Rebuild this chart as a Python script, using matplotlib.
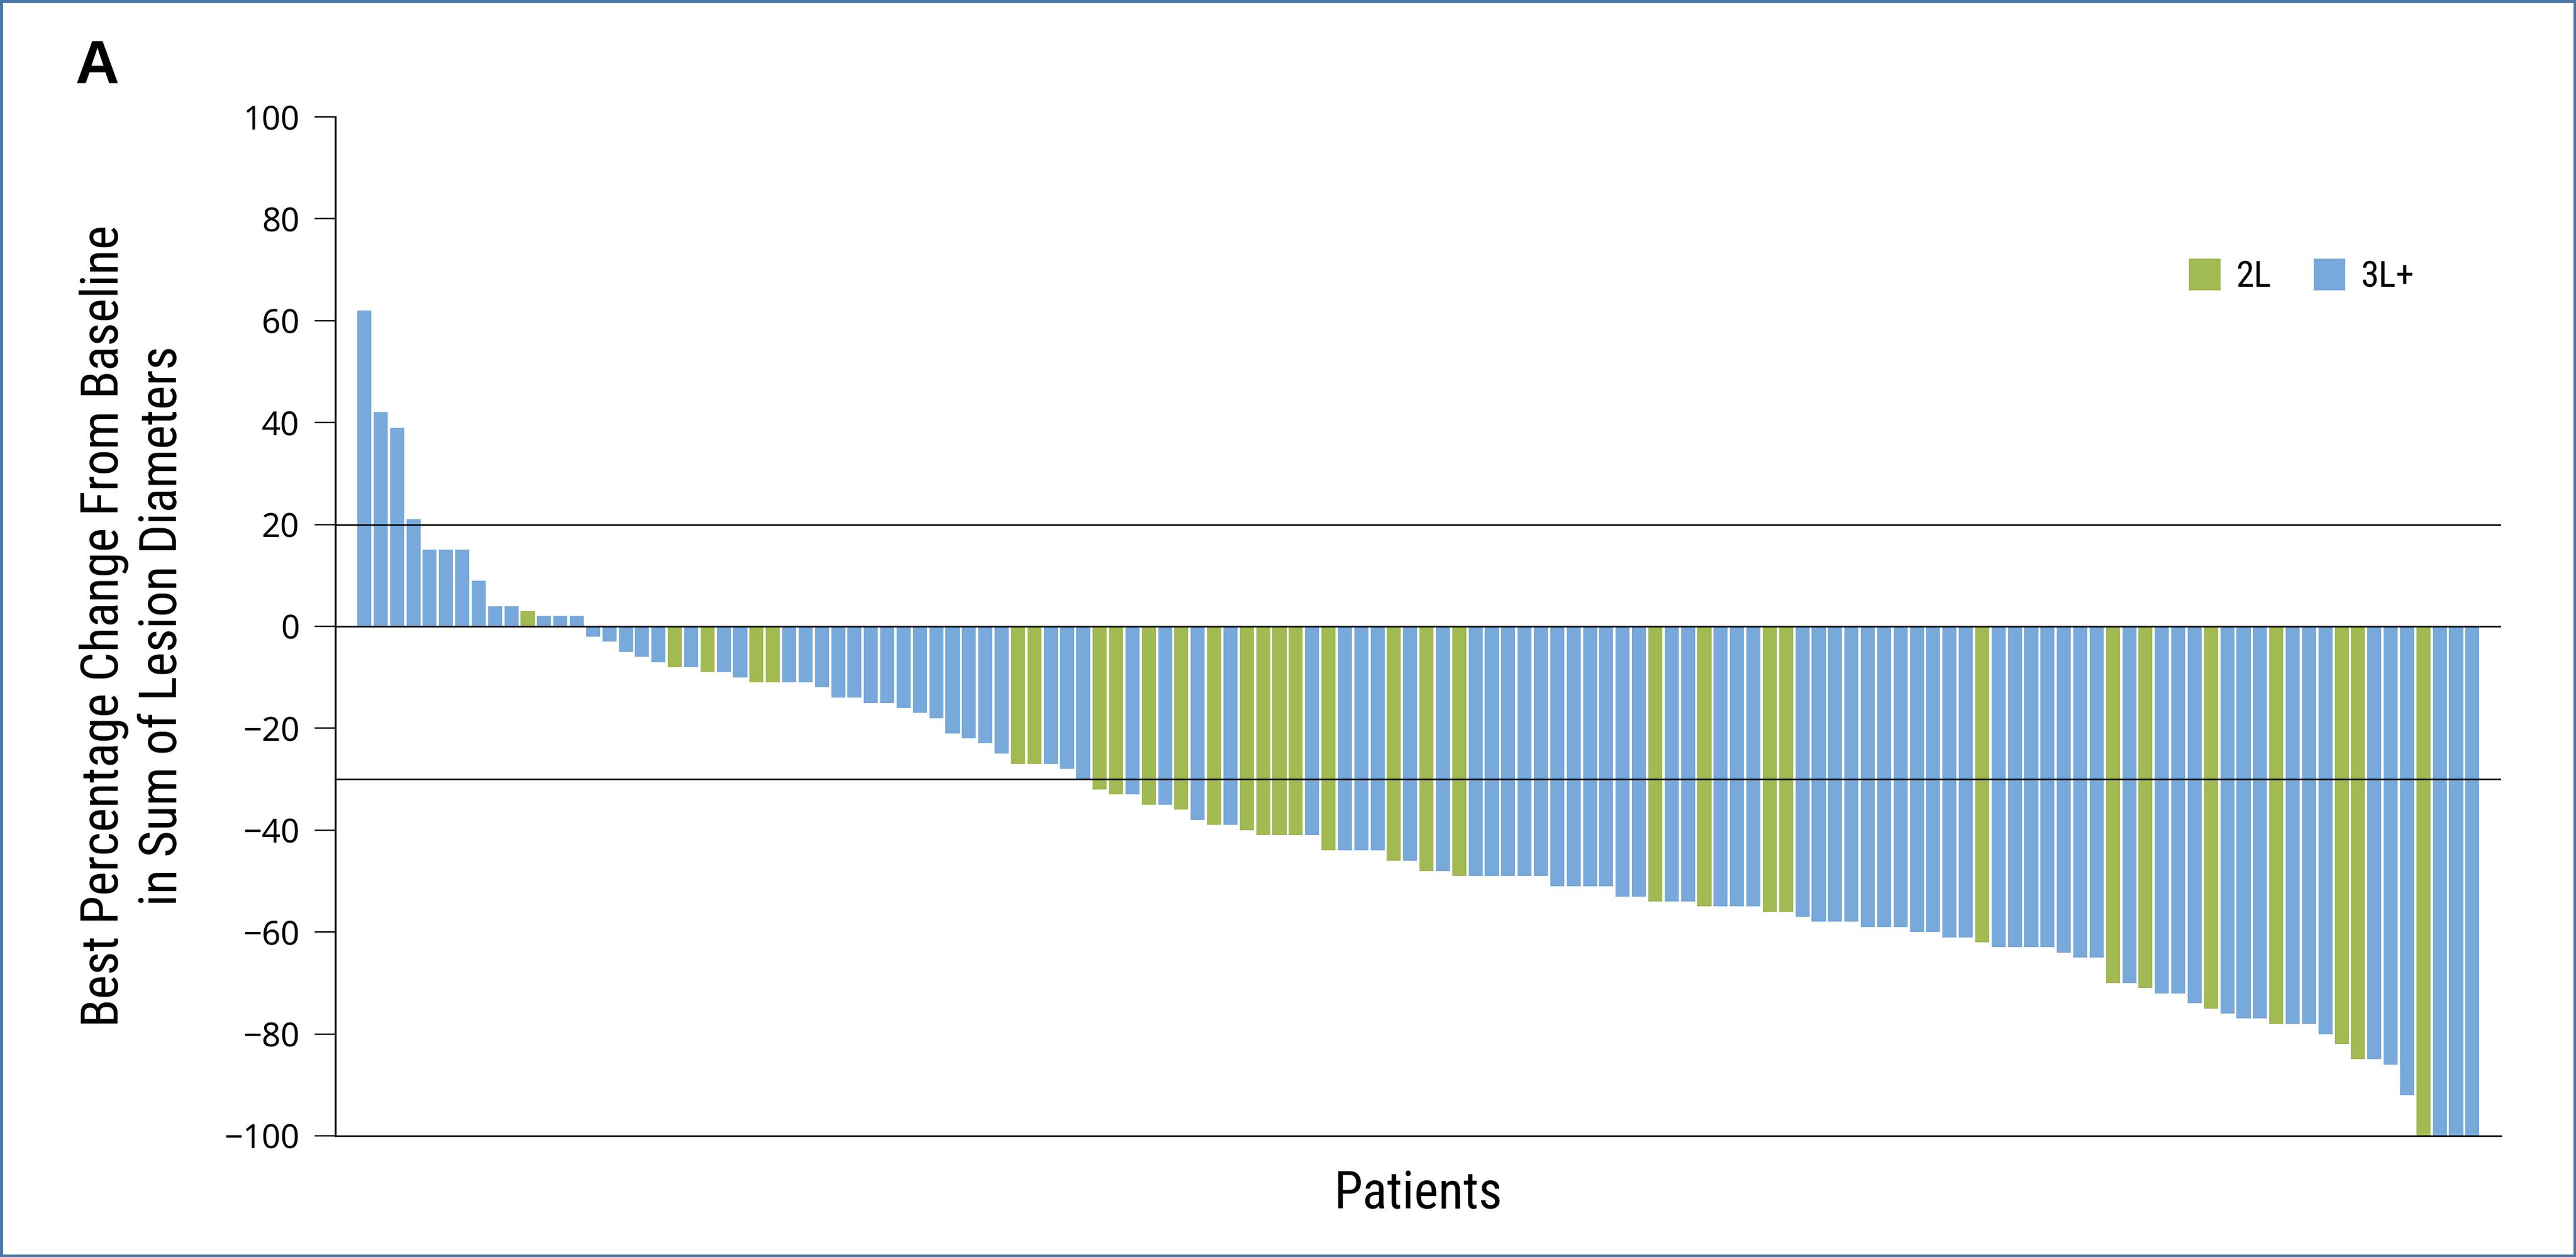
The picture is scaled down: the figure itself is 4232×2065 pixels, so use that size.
import matplotlib
matplotlib.use("Agg")
import matplotlib.pyplot as plt
from matplotlib import font_manager
from matplotlib.patches import Patch, Rectangle


def pick_font(names):
    for n in names:
        try:
            font_manager.findfont(n, fallback_to_default=False)
            return n
        except Exception:
            pass
    return "DejaVu Sans"


narrow = pick_font(["Liberation Sans Narrow", "Roboto Condensed", "DejaVu Sans"])
ticks_font = pick_font(["Noto Sans", "Open Sans", "DejaVu Sans"])
bold_font = pick_font(["Liberation Sans", "DejaVu Sans"])

# best % change per patient, sorted as in the figure
change = [62, 42, 39, 21, 15, 15, 15, 9, 4, 4, 3, 2, 2, 2,
          -2, -3, -5, -6, -7, -8, -8, -9,
          -9, -10, -11, -11, -11, -11, -12, -14, -14, -15, -15, -16, -17, -18,
          -21, -22, -23, -25, -27, -27, -27, -28, -30,
          -32, -33, -33, -35, -35, -36, -38, -39, -39, -40, -41, -41, -41, -41,
          -44, -44, -44, -44, -46, -46, -48, -48,
          -49, -49, -49, -49, -49, -49, -51, -51, -51, -51, -53, -53, -54, -54,
          -54, -55, -55, -55, -55, -56, -56, -57,
          -58, -58, -58, -59, -59, -59, -60, -60, -61, -61, -62, -63, -63, -63,
          -63, -64, -65, -65, -70, -70, -71, -72, -72,
          -74, -75, -76, -77, -77, -78, -78, -78, -80, -82, -85, -85, -86, -92,
          -100, -100, -100, -100]

# patients (1-based) treated in second line; all others are 3L+
second_line = [11, 20, 22, 25, 26, 41, 42, 46, 47, 49, 51, 53, 55, 56, 57, 58,
               60, 64, 66, 68, 80, 83, 87, 88, 100, 108, 110, 114, 118, 122,
               123, 127]

lines_label = ["2L", "3L+"]
colors = {"2L": "#A1BA51", "3L+": "#78A9DB"}
ref_lines = [20, 0, -30]
yticks = list(range(-100, 101, 20))

groups = ["2L" if (i + 1) in second_line else "3L+" for i in range(len(change))]
bar_colors = [colors[g] for g in groups]
x = list(range(len(change)))

fig = plt.figure(figsize=(42.32, 20.65), dpi=100)
ax = fig.add_axes([0.1302, 0.0964, 0.9709 - 0.1302, 0.9070 - 0.0964])

ax.bar(x, change, width=0.86, color=bar_colors, linewidth=0)

for y in ref_lines:
    ax.axhline(y, color="black", linewidth=1.8, zorder=3)

ax.set_ylim(-100, 100)
ax.set_xlim(-1.77, 130.75)
ax.set_yticks(yticks)
ax.set_xticks([])
ax.tick_params(axis="y", length=24.5, width=1.7, pad=18, labelsize=39)
for lab in ax.get_yticklabels():
    lab.set_fontfamily(ticks_font)

for s in ["top", "right"]:
    ax.spines[s].set_visible(False)
ax.spines["left"].set_linewidth(2.2)
ax.spines["bottom"].set_linewidth(1.8)

handles = [Patch(facecolor=colors[k], edgecolor="none", label=k) for k in lines_label]
leg = ax.legend(handles=handles, loc="center left", bbox_to_anchor=(0.8558, 0.8436),
                ncol=2, frameon=False, borderpad=0, borderaxespad=0,
                handlelength=0.87, handleheight=0.97, handletextpad=0.42,
                columnspacing=1.18, prop={"family": narrow, "size": 43})

fig.text(0.5506, 0.0387, "Patients", ha="center", va="baseline",
         family=narrow, fontsize=61)
fig.text(0.0516, 0.5022, "Best Percentage Change From Baseline\nin Sum of Lesion Diameters",
         rotation=90, ha="center", va="center", multialignment="center",
         family=narrow, fontsize=61, linespacing=1.22)
fig.text(0.0293, 0.9332, "A", ha="left", va="baseline", family=bold_font,
         fontweight="bold", fontsize=72)

fig.patches.append(Rectangle((0, 0), 1, 1, transform=fig.transFigure, fill=False,
                             edgecolor="#4A77A8", linewidth=6.5))

fig.savefig("out.png", dpi=100)
